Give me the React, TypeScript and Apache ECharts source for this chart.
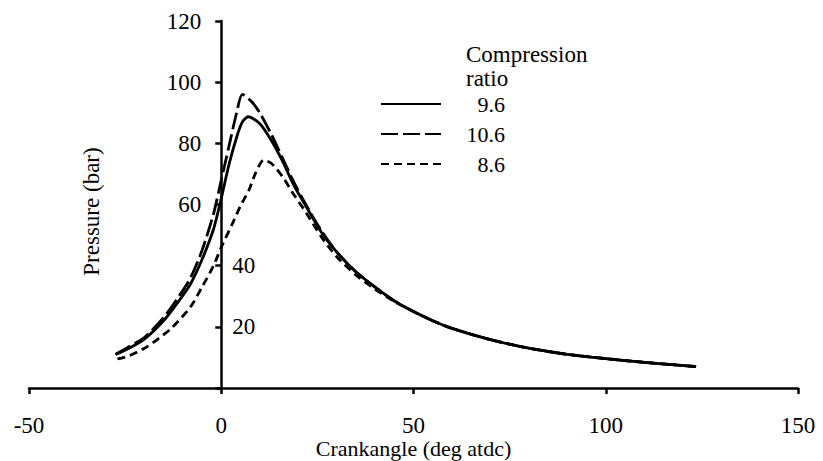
import React, { useEffect, useRef } from "react";
import * as echarts from "echarts";

const xTicks = [-50, 0, 50, 100, 150];
const yLeftLabels = [60, 80, 100, 120];
const yRightLabels = [20, 40];

const legendTitle = "Compression\nratio";
const ratioNames = ["9.6", "10.6", "8.6"];

const angle96 = [-27.5, -24, -20, -15, -11, -8, -5, -2, 0, 2, 4, 5.5, 7, 10, 13, 16, 19, 22, 26, 30, 35, 40, 45, 50, 55, 60, 70, 80, 90, 100, 110, 123.5];
const press96 = [11, 13, 16, 22, 28.5, 34, 42, 52, 62, 73, 82, 87, 88.7, 86.5, 81, 74, 66, 59.5, 51, 44.5, 38, 33, 28.5, 25, 22, 19.5, 15.8, 13, 11, 9.6, 8.4, 7];

const angle106 = [-27.5, -24, -20, -15, -11, -8, -5, -2, 0, 2, 4, 5.5, 8, 10, 13, 16, 19, 22, 26, 30, 35, 40, 45, 50, 55, 60, 70, 80, 90, 100, 110, 123.5];
const press106 = [11, 13.5, 16.5, 23, 30, 36, 45, 57, 68, 79, 90, 96, 93.5, 90, 83, 75, 67, 60, 51.5, 44.5, 38, 33, 28.5, 25, 22, 19.5, 15.8, 13, 11, 9.6, 8.4, 7];

const angle86 = [-27, -24, -20, -17, -13, -8, -5, -2, 0, 3, 5, 7.3, 9, 11, 13, 16, 19, 22, 26, 30, 35, 40, 45, 50, 55, 60, 70, 80, 90, 100, 110, 123.5];
const press86 = [9.5, 10.5, 13, 15.5, 19.5, 26.5, 33, 40, 46, 54, 59.5, 65, 70.5, 74.5, 73.5, 69, 63, 57.5, 49.5, 43, 37, 32.3, 28.3, 25, 22, 19.5, 15.8, 13, 11, 9.6, 8.4, 7];

const FONT = "Liberation Serif";
const INK = "#000";
const GRID = { left: 29, right: 25, top: 21, bottom: 73 };
const W = 823;

const zip = (a: number[], b: number[]) => a.map((v, i) => [v, b[i]]);

export default function App() {
  const ref = useRef<HTMLDivElement>(null);
  useEffect(() => {
    document.body.style.margin = "0";
    if (!ref.current) return;
    const chart = echarts.init(ref.current, null, { renderer: "svg" });
    const gridW = W - GRID.left - GRID.right;
    const xMin = xTicks[0];
    const xMax = xTicks[xTicks.length - 1];
    // y axes sit at crank angle 0
    const leftOffset = -gridW * (0 - xMin) / (xMax - xMin);
    const rightOffset = -gridW * (xMax - 0) / (xMax - xMin);
    const lineBase = { type: "line", symbol: "none", showSymbol: false, smooth: 0.25, color: INK };
    chart.setOption({
      animation: false,
      backgroundColor: "#fff",
      title: {
        text: legendTitle,
        left: 466,
        top: 42,
        padding: 0,
        textStyle: { fontFamily: FONT, fontSize: 23, fontWeight: "normal", color: INK, lineHeight: 24 },
      },
      legend: {
        data: ratioNames,
        orient: "vertical",
        left: 380,
        top: 93,
        padding: 0,
        itemWidth: 60,
        itemHeight: 14,
        itemGap: 8,
        itemStyle: { opacity: 0, borderWidth: 0 },
        formatter: (n: string) => `{a|${n}}`,
        textStyle: {
          fontFamily: FONT,
          fontSize: 22,
          color: INK,
          rich: { a: { fontFamily: FONT, fontSize: 22, color: INK, width: 59, align: "right", lineHeight: 21 } },
        },
      },
      grid: { ...GRID, outerBoundsMode: "none", containLabel: false },
      xAxis: {
        type: "value",
        min: xMin,
        max: xMax,
        interval: 50,
        name: "Crankangle (deg atdc)",
        nameLocation: "middle",
        nameGap: 49,
        nameMoveOverlap: false,
        nameTextStyle: { fontFamily: FONT, fontSize: 22, color: INK, lineHeight: 22 },
        axisLine: { show: true, onZero: false, lineStyle: { color: INK, width: 2.5 } },
        axisTick: { show: true, length: 6, lineStyle: { color: INK, width: 2.5 } },
        axisLabel: { margin: 26, fontFamily: FONT, fontSize: 23, lineHeight: 22, color: INK },
        splitLine: { show: false },
      },
      yAxis: [
        {
          type: "value",
          min: 0,
          max: 120,
          interval: 20,
          position: "left",
          offset: leftOffset,
          name: "Pressure (bar)",
          nameLocation: "middle",
          nameGap: 118,
          nameRotate: 90,
          nameMoveOverlap: false,
          nameTextStyle: { fontFamily: FONT, fontSize: 23, color: INK, padding: [0, 14, 0, 0] },
          axisLine: { show: true, onZero: false, lineStyle: { color: INK, width: 2.5 } },
          axisTick: { show: true, length: 6, lineStyle: { color: INK, width: 2.5 } },
          axisLabel: {
            margin: 20,
            fontFamily: FONT,
            fontSize: 23,
            color: INK,
            formatter: (v: number) => (yLeftLabels.includes(v) ? String(v) : ""),
          },
          splitLine: { show: false },
        },
        {
          type: "value",
          min: 0,
          max: 120,
          interval: 20,
          position: "right",
          offset: rightOffset,
          axisLine: { show: false, onZero: false },
          axisTick: { show: false },
          axisLabel: {
            margin: 11,
            fontFamily: FONT,
            fontSize: 23,
            color: INK,
            formatter: (v: number) => (yRightLabels.includes(v) ? String(v) : ""),
          },
          splitLine: { show: false },
        },
      ],
      series: [
        { ...lineBase, name: ratioNames[2], data: zip(angle86, press86), lineStyle: { color: INK, width: 2.8, type: [8, 5] } },
        { ...lineBase, name: ratioNames[0], data: zip(angle96, press96), lineStyle: { color: INK, width: 2.8, type: "solid" } },
        { ...lineBase, name: ratioNames[1], data: zip(angle106, press106), lineStyle: { color: INK, width: 2.8, type: [17, 5] } },
      ],
    });
    return () => chart.dispose();
  }, []);
  return <div ref={ref} style={{ width: 823, height: 461 }} />;
}
